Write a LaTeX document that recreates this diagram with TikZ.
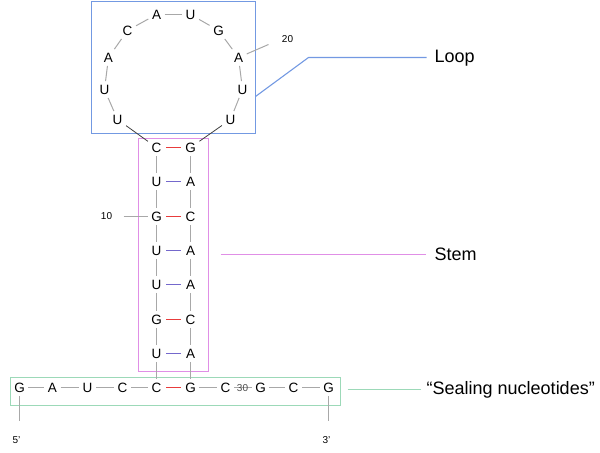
\documentclass[tikz,border=0pt]{standalone}
\usepackage{fontspec}
\setmainfont{Liberation Sans}
\definecolor{loopblue}{HTML}{7399E2}
\definecolor{stempink}{HTML}{E08FE6}
\definecolor{sealgreen}{HTML}{9CD9B8}
\definecolor{pairred}{HTML}{E83C3C}
\definecolor{pairblue}{HTML}{7468CC}
\definecolor{bbgray}{HTML}{A8A8A8}
\begin{document}
\begin{tikzpicture}[x=1bp,y=-1bp,
  nt/.style={font=\fontsize{13.5bp}{15bp}\selectfont, inner sep=3.5bp, minimum size=12bp},
  num/.style={font=\fontsize{10bp}{12bp}\selectfont, inner sep=1bp},
  lab/.style={font=\fontsize{18bp}{21bp}\selectfont, anchor=west, inner sep=0pt},
  bb/.style={draw=bbgray, line width=1bp},
  bbdark/.style={draw=black!75, line width=0.8bp},
  gc/.style={draw=pairred, line width=1.2bp, shorten <=1bp, shorten >=1bp},
  au/.style={draw=pairblue, line width=1.2bp, shorten <=1bp, shorten >=1bp}]
\useasboundingbox (0,0) rectangle (600,453);
\begin{scope}[shift={(0.5,0.5)}]
% loop box
\draw[draw=loopblue, line width=1.1bp] (91,1) rectangle (255,133);
% loop nucleotides
\node[nt] (l1) at (117,119) {U};
\node[nt] (l2) at (104,89) {U};
\node[nt] (l3) at (108,57) {A};
\node[nt] (l4) at (127,30) {C};
\node[nt] (l5) at (156,14) {A};
\node[nt] (l6) at (190,14) {U};
\node[nt] (l7) at (218,30) {G};
\node[nt] (l8) at (238,57) {A};
\node[nt] (l9) at (242,89) {U};
\node[nt] (l10) at (230,119) {U};
\foreach \a/\b in {l1/l2,l2/l3,l3/l4,l4/l5,l5/l6,l6/l7,l7/l8,l8/l9,l9/l10}
  \draw[bb] (\a) -- (\b);
% stem box
\draw[draw=stempink, line width=1.1bp] (138,138) rectangle (208,371);
% stem nucleotides
\foreach \i/\lt/\rt/\y in {1/C/G/147, 2/U/A/181, 3/G/C/216, 4/U/A/250, 5/U/A/284, 6/G/C/319, 7/U/A/353}{
  \node[nt] (sL\i) at (156,\y) {\lt};
  \node[nt] (sR\i) at (190,\y) {\rt};
}
\foreach \i/\j in {1/2,2/3,3/4,4/5,5/6,6/7}{
  \draw[bb] (sL\i) -- (sL\j);
  \draw[bb] (sR\i) -- (sR\j);
}
\draw[gc] (sL1) -- (sR1);
\draw[au] (sL2) -- (sR2);
\draw[gc] (sL3) -- (sR3);
\draw[au] (sL4) -- (sR4);
\draw[au] (sL5) -- (sR5);
\draw[gc] (sL6) -- (sR6);
\draw[au] (sL7) -- (sR7);
\draw[bbdark] (l1) -- (sL1);
\draw[bbdark] (l10) -- (sR1);
% sealing box
\draw[draw=sealgreen, line width=1.1bp] (10,377) rectangle (340,405);
\foreach \i/\t/\x in {1/G/19, 2/A/52, 3/U/87, 4/C/122, 5/C/156, 6/G/190, 7/C/225, 8/G/260, 9/C/293, 10/G/328}
  \node[nt] (b\i) at (\x,387) {\t};
\foreach \i/\j in {1/2,2/3,3/4,4/5,6/7,7/8,8/9,9/10}
  \draw[bb] (b\i) -- (b\j);
\draw[gc] (b5) -- (b6);
\node[num, text=black!70] (n30) at (242,388) {30};
\draw[bb] (sL7) -- (b5);
\draw[bb] (sR7) -- (b6);
% ends
\coordinate (e5) at (19,420);
\coordinate (e3) at (328,420);
\draw[bb] (b1) -- (e5);
\draw[bb] (b10) -- (e3);
\node[num] (p5) at (16,440) {5'};
\node[num] (p3) at (326,440) {3'};
% numbering
\node[num] (n10) at (106,216) {10};
\coordinate (n10a) at (123,216);
\draw[bb] (n10a) -- (sL3);
\node[num] (n20) at (287,39) {20};
\coordinate (n20a) at (268,44);
\draw[bb] (l8) -- (n20a);
% labels
\node[lab] (loop) at (434,58) {Loop};
\node[lab] (stem) at (434,254) {Stem};
\node[lab] (seal) at (426,389) {“Sealing nucleotides”};
\coordinate (lp1) at (255,96);
\coordinate (lp2) at (308,57);
\coordinate (lp3) at (426,57);
\draw[draw=loopblue, line width=1.1bp] (lp1) -- (lp2) -- (lp3);
\coordinate (st1) at (220,254);
\coordinate (st2) at (425,254);
\draw[draw=stempink, line width=1.1bp] (st1) -- (st2);
\coordinate (se1) at (347,389);
\coordinate (se2) at (420,389);
\draw[draw=sealgreen, line width=1.1bp] (se1) -- (se2);
\end{scope}
\end{tikzpicture}
\end{document}
